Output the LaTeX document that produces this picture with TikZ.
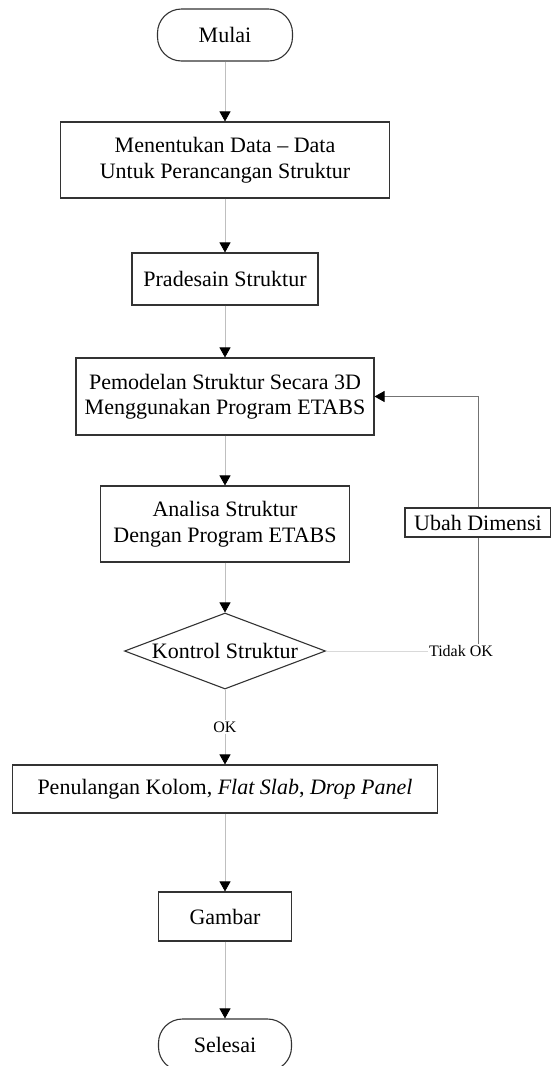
\documentclass[tikz,border=0pt]{standalone}
\usepackage{fontspec}
\setmainfont{Liberation Serif}
\usetikzlibrary{arrows.meta, shapes.geometric}

\begin{document}
\begin{tikzpicture}[x=1pt, y=-1pt,
    box/.style={draw=black!80, line width=1.1pt, fill=white, inner sep=2pt, align=center, font=\fontsize{22}{25.5}\selectfont},
    term/.style={box, rounded corners=24pt, minimum width=135pt, minimum height=52pt},
    link/.style={draw=black!25, line width=0.8pt},
    arr/.style={link, -{Triangle[color=black, width=11pt, length=10pt]}},
    lbl/.style={font=\fontsize{16}{18}\selectfont, inner sep=1pt}]
    \useasboundingbox (0,0) rectangle (550,1066);
    \node[term] (mulai) at (225,35) {Mulai};
    \node[box, minimum width=329pt, minimum height=76pt] (data) at (225,160) {Menentukan Data -- Data\\Untuk Perancangan Struktur};
    \node[box, minimum width=186pt, minimum height=52pt] (pra) at (225,279) {Pradesain Struktur};
    \node[box, minimum width=298pt, minimum height=77pt] (model) at (225,396.5) {Pemodelan Struktur Secara 3D\\Menggunakan Program ETABS};
    \node[box, minimum width=249pt, minimum height=76pt] (analisa) at (225,524) {Analisa Struktur\\Dengan Program ETABS};
    \node[box, diamond, aspect=2.64, inner sep=0pt, minimum width=201pt, minimum height=76pt] (kontrol) at (225,651) {Kontrol Struktur};
    \node[lbl] (tidak) at (461,651) {Tidak OK};
    \node[box, minimum width=146pt, minimum height=29pt, inner sep=1pt] (ubah) at (478,522.5) {Ubah Dimensi};
    \node[lbl, fill=white] (ok) at (225,727) {OK};
    \node[box, minimum width=425pt, minimum height=48pt] (tulang) at (225,789) {Penulangan Kolom, \textit{Flat Slab}, \textit{Drop Panel}};
    \node[box, minimum width=133pt, minimum height=49pt] (gambar) at (225,916.5) {Gambar};
    \node[term, minimum width=133pt] (selesai) at (225,1045) {Selesai};

    \draw[arr] (mulai) -- (data);
    \draw[arr] (data) -- (pra);
    \draw[arr] (pra) -- (model);
    \draw[arr] (model) -- (analisa);
    \draw[arr] (analisa) -- (kontrol);
    \draw[link] (kontrol) -- (ok);
    \draw[arr] (ok) -- (tulang);
    \draw[arr] (tulang) -- (gambar);
    \draw[arr] (gambar) -- (selesai);
    \draw[link, draw=black!15] (kontrol.east) -- (tidak.west);
    \draw[link, draw=black!55] (tidak.north -| ubah) -- (ubah);
    \draw[arr, draw=black!55] (ubah) |- (model.east);
\end{tikzpicture}
\end{document}
